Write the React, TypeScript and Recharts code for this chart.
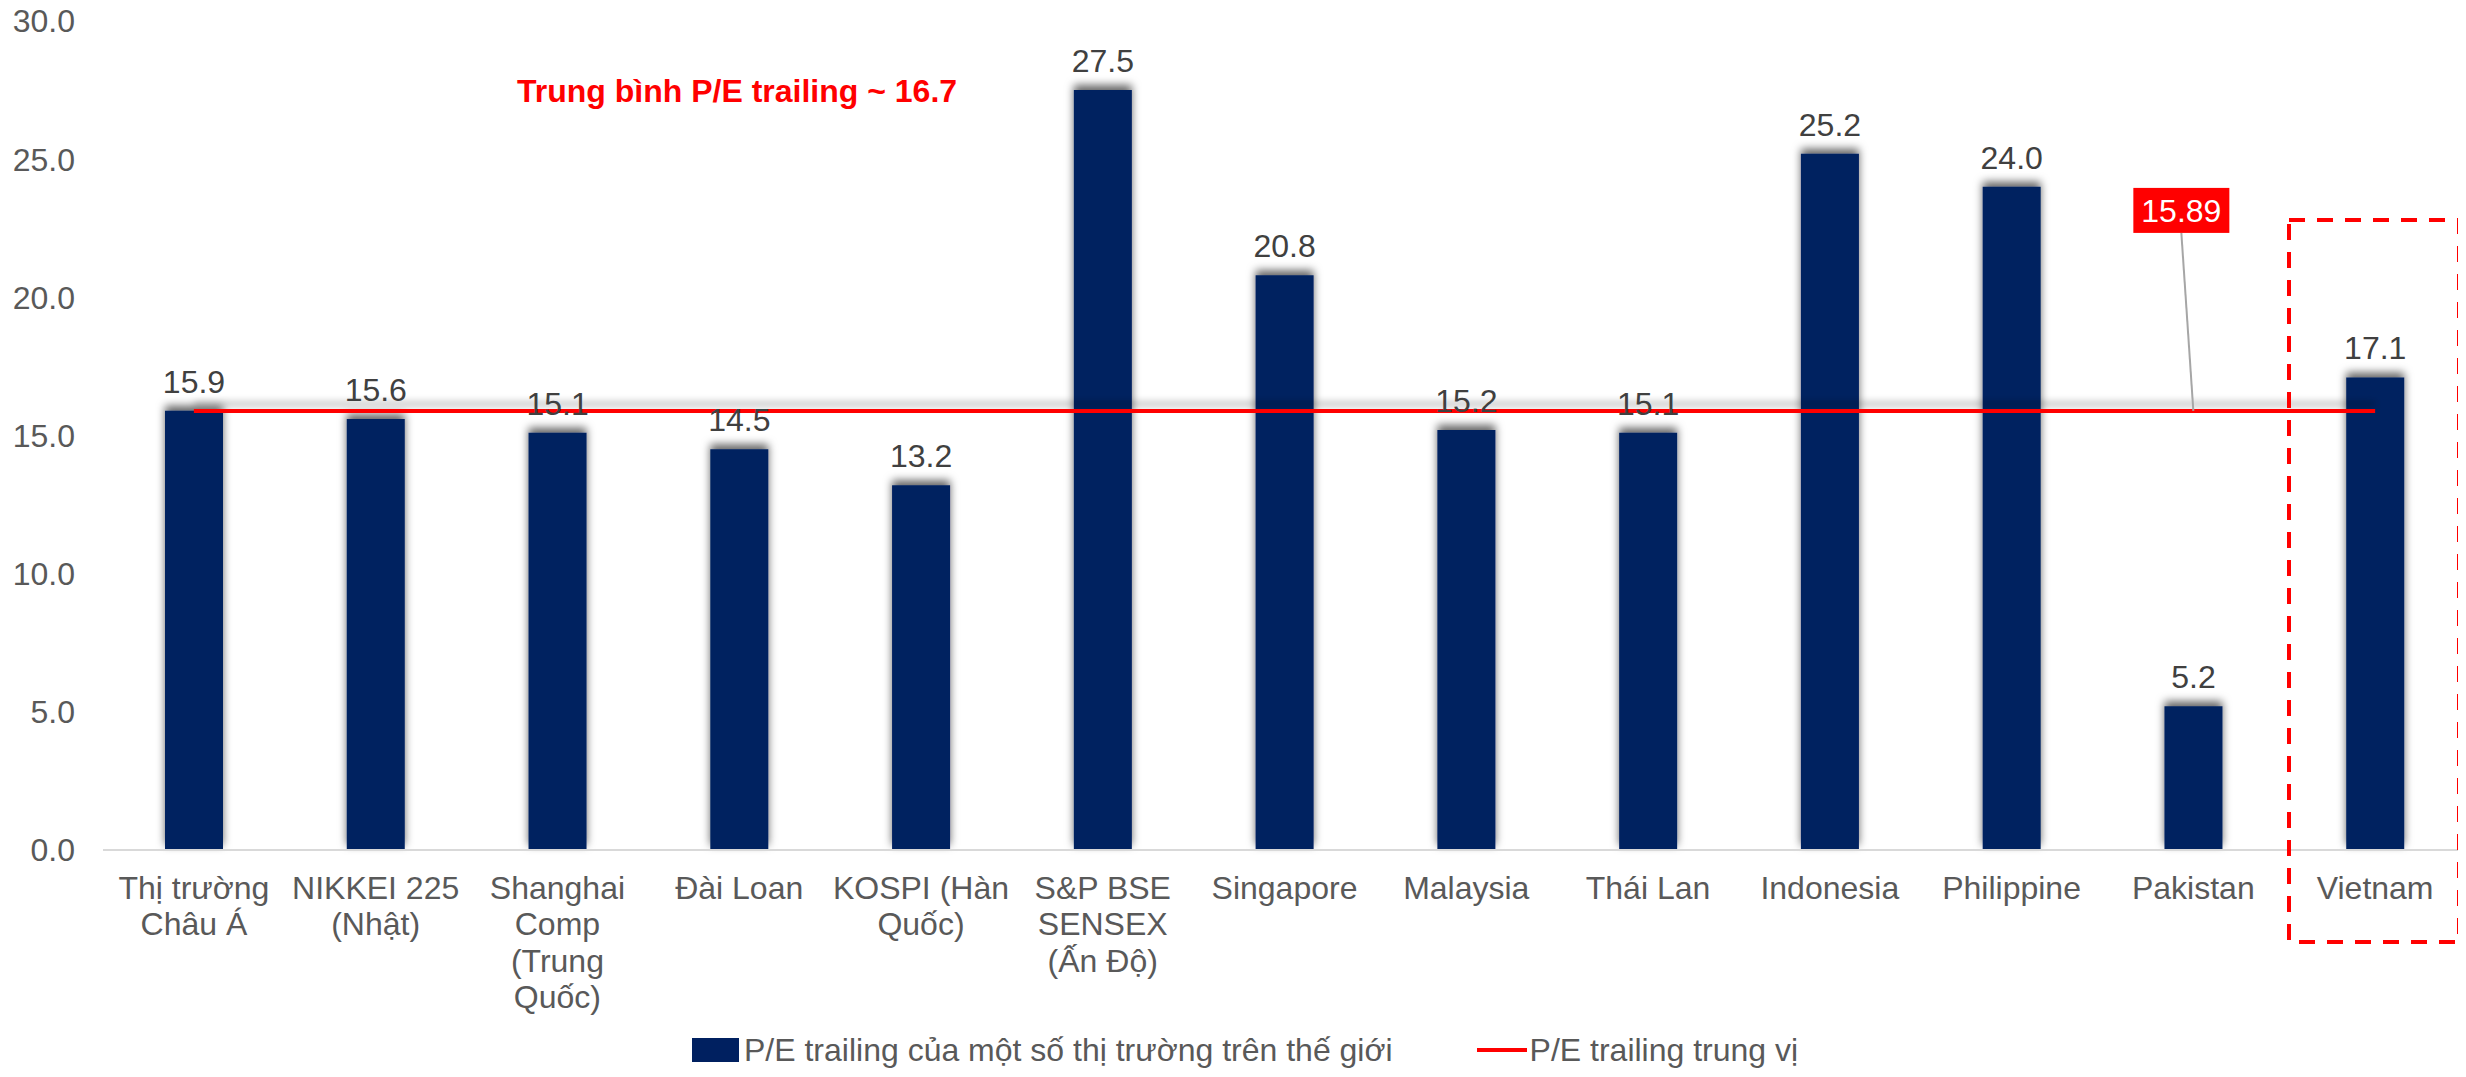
import React from 'react';
import {
  ComposedChart,
  Bar,
  Line,
  XAxis,
  YAxis,
  LabelList,
  ReferenceDot,
} from 'recharts';

const categories = [
  'Thị trường\nChâu Á',
  'NIKKEI 225\n(Nhật)',
  'Shanghai\nComp\n(Trung\nQuốc)',
  'Đài Loan',
  'KOSPI (Hàn\nQuốc)',
  'S&P BSE\nSENSEX\n(Ấn Độ)',
  'Singapore',
  'Malaysia',
  'Thái Lan',
  'Indonesia',
  'Philippine',
  'Pakistan',
  'Vietnam',
];

const peValues = [15.9, 15.6, 15.1, 14.5, 13.2, 27.5, 20.8, 15.2, 15.1, 25.2, 24.0, 5.2, 17.1];

const medianValues = [15.89, 15.89, 15.89, 15.89, 15.89, 15.89, 15.89, 15.89, 15.89, 15.89, 15.89, 15.89, 15.89];

const yTicks = [0, 5, 10, 15, 20, 25, 30];

const medianLabelValue = 15.89;
const medianLabelCategory = 'Pakistan';

const titleText = 'Trung bình P/E trailing ~ 16.7';
const barSeriesName = 'P/E trailing của một số thị trường trên thế giới';
const lineSeriesName = 'P/E trailing trung vị';

const data = categories.map((c, i) => ({
  name: c,
  pe: peValues[i],
  median: medianValues[i],
}));

const FONT = '"Liberation Sans", Arial, sans-serif';

const XTick = (props: any) => {
  const { x, y, payload } = props;
  const lines: string[] = String(payload.value).split('\n');
  return (
    <text x={x} y={y} textAnchor="middle" fill="#595959" fontSize={32} fontFamily={FONT}>
      {lines.map((l, i) => (
        <tspan key={i} x={x} dy={i === 0 ? 49 : 36.3}>
          {l}
        </tspan>
      ))}
    </text>
  );
};

const MedianCallout = (props: any) => {
  const { cx, cy } = props;
  if (cx == null || cy == null) return null;
  const boxW = 96;
  const boxH = 45;
  const bx = cx - 12 - boxW / 2;
  const by = cy - 178 - boxH;
  return (
    <g>
      <line x1={cx} y1={cy} x2={cx - 12} y2={cy - 178} stroke="#A6A6A6" strokeWidth={2} />
      <rect x={bx} y={by} width={boxW} height={boxH} fill="#FF0000" />
      <text
        x={bx + boxW / 2}
        y={by + boxH / 2}
        dy="0.355em"
        textAnchor="middle"
        fill="#FFFFFF"
        fontSize={32}
        fontFamily={FONT}
      >
        {medianLabelValue.toFixed(2)}
      </text>
    </g>
  );
};

export default function App() {
  return (
    <div
      style={{
        position: 'relative',
        margin: '-8px',
        width: 2466,
        height: 1077,
        overflow: 'hidden',
        background: '#FFFFFF',
        fontFamily: FONT,
      }}
    >
      <style>{`
        .pe-bars .recharts-rectangle { filter: url(#barShadow); }
        .median-line .recharts-curve { filter: url(#lineShadow); }
      `}</style>
      <svg width={0} height={0} style={{ position: 'absolute' }}>
        <defs>
          <filter id="barShadow" filterUnits="userSpaceOnUse" x={0} y={0} width={2466} height={1077}>
            <feDropShadow dx={0} dy={-5} stdDeviation={4.5} floodColor="#000000" floodOpacity={0.6} />
          </filter>
          <filter id="lineShadow" filterUnits="userSpaceOnUse" x={0} y={0} width={2466} height={1077}>
            <feDropShadow dx={0} dy={-7} stdDeviation={3.5} floodColor="#000000" floodOpacity={0.3} />
          </filter>
        </defs>
      </svg>
      <ComposedChart
        width={2466}
        height={1077}
        data={data}
        margin={{ top: 21, right: 0, bottom: 0, left: 0 }}
      >
        <XAxis
          dataKey="name"
          interval={0}
          height={227}
          tickLine={false}
          tickSize={0}
          tickMargin={0}
          axisLine={{ stroke: '#D9D9D9', strokeWidth: 2 }}
          tick={<XTick />}
        />
        <YAxis
          domain={[0, 30]}
          ticks={yTicks}
          width={103}
          axisLine={false}
          tickLine={false}
          tickSize={0}
          tickMargin={28}
          tickFormatter={(v: number) => v.toFixed(1)}
          tick={{ fill: '#595959', fontSize: 32, fontFamily: FONT }}
        />
        <Bar
          className="pe-bars"
          dataKey="pe"
          name={barSeriesName}
          fill="#002060"
          barSize={58}
          isAnimationActive={false}
        >
          <LabelList
            dataKey="pe"
            position="top"
            offset={18}
            fill="#404040"
            fontSize={32}
            fontFamily={FONT}
            formatter={(v: any) => Number(v).toFixed(1)}
          />
        </Bar>
        <Line
          className="median-line"
          type="linear"
          dataKey="median"
          name={lineSeriesName}
          stroke="#FF0000"
          strokeWidth={4}
          dot={false}
          activeDot={false}
          isAnimationActive={false}
        />
        <ReferenceDot
          x={medianLabelCategory}
          y={medianLabelValue}
          r={0}
          ifOverflow="visible"
          shape={<MedianCallout />}
        />
      </ComposedChart>

      <svg
        width={2466}
        height={1077}
        style={{ position: 'absolute', left: 0, top: 0, pointerEvents: 'none' }}
      >
        <text x={517} y={102} fill="#FF0000" fontSize={32} fontWeight="bold" fontFamily={FONT}>
          {titleText}
        </text>
        <rect
          x={2289}
          y={220}
          width={170}
          height={722}
          fill="none"
          stroke="#FF0000"
          strokeWidth={4}
          strokeDasharray="16 12"
        />
      </svg>

      <div
        style={{
          position: 'absolute',
          left: 692,
          top: 1050,
          transform: 'translateY(-50%)',
          display: 'flex',
          alignItems: 'center',
          fontSize: 32,
          color: '#595959',
          fontFamily: FONT,
          whiteSpace: 'nowrap',
          lineHeight: '36px',
        }}
      >
        <span style={{ display: 'inline-block', width: 47, height: 24, background: '#002060', marginRight: 5 }} />
        <span>{barSeriesName}</span>
        <span
          style={{ display: 'inline-block', width: 50, height: 4, background: '#FF0000', marginLeft: 84, marginRight: 3 }}
        />
        <span>{lineSeriesName}</span>
      </div>
    </div>
  );
}
